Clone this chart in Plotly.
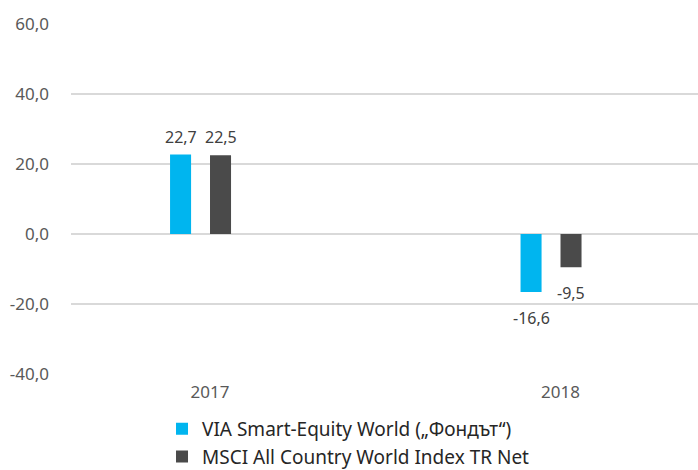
import plotly.graph_objects as go

categories = ["2017", "2018"]
fund_values = [22.7, -16.6]
index_values = [22.5, -9.5]
series_names = ["VIA Smart-Equity World („Фондът“)", "MSCI All Country World Index TR Net"]
y_ticks = [-40, -20, 0, 20, 40, 60]
y_tick_labels = ["-40,0", "-20,0", "0,0", "20,0", "40,0", "60,0"]

FONT = "Noto Sans"
BAR_W = 0.06

fig = go.Figure()
for vals, name, color, off in [
    (fund_values, series_names[0], "#00B5EF", -0.114),
    (index_values, series_names[1], "#4A4A4A", 0.0),
]:
    fig.add_trace(go.Bar(
        x=categories, y=vals, name=name,
        marker=dict(color=color, line=dict(width=0)),
        width=BAR_W, offset=off,
        hoverinfo="x+y",
    ))
    for i, v in enumerate(vals):
        # category index i + bar offset -> centre of this bar on the category axis
        fig.add_annotation(
            x=i + off + BAR_W / 2, y=v, xref="x", yref="y",
            text=f"{v:.1f}".replace(".", ","),
            showarrow=False,
            yanchor="bottom" if v >= 0 else "top",
            yshift=5 if v >= 0 else -13,
            font=dict(family=FONT, size=16, color="#404040"),
        )

fig.update_layout(
    width=698, height=470,
    margin=dict(l=71, r=0, t=24, b=96, autoexpand=False),
    paper_bgcolor="white", plot_bgcolor="white",
    barmode="overlay",
    font=dict(family=FONT, size=16, color="#595959"),
    showlegend=True,
    legend=dict(
        orientation="v", x=0.4426, xanchor="center",
        yref="container", y=0.128, yanchor="top",
        font=dict(family=FONT, size=19, color="#262626"),
        itemwidth=30, tracegroupgap=0,
    ),
    xaxis=dict(
        type="category", range=[-0.3966, 1.3923], automargin=False,
        showgrid=False, zeroline=False, showline=False,
        ticks="", tickfont=dict(family=FONT, size=17, color="#595959"),
        ticklabelstandoff=6,
    ),
    yaxis=dict(
        range=[-40, 60], tickvals=y_ticks, ticktext=y_tick_labels,
        automargin=False,
        showgrid=True, gridcolor="#D9D9D9", gridwidth=1.5,
        zeroline=False, showline=False, ticks="",
        tickfont=dict(family=FONT, size=17, color="#595959"),
        ticklabelstandoff=21,
    ),
)

fig.write_html(
    "out.html",
    config={"displayModeBar": False},
    post_script="document.body.style.margin='0';document.body.style.overflow='hidden';",
)
